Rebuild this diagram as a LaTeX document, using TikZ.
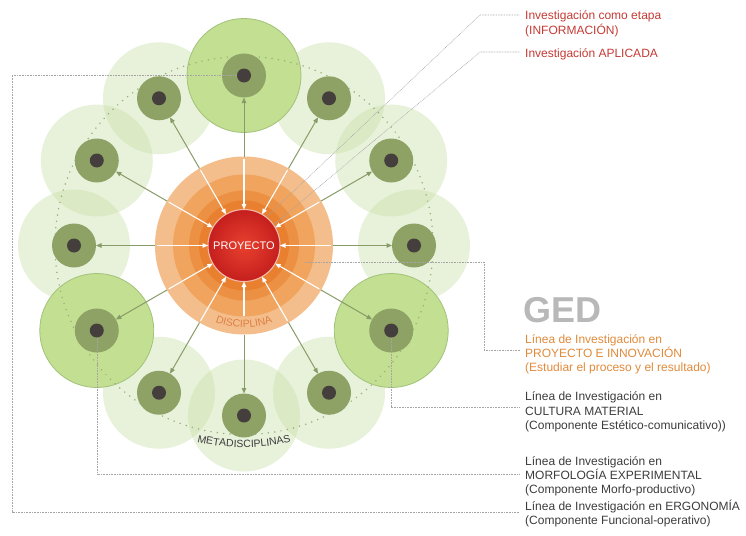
\documentclass[tikz,border=0pt]{standalone}
\usepackage{fontspec}
\setmainfont{Liberation Sans}
\usetikzlibrary{arrows.meta,decorations.text,calc}

\definecolor{halocol}{HTML}{C8E0A8}
\definecolor{brightcol}{HTML}{C2DF92}
\definecolor{brightrim}{HTML}{A2C27A}
\definecolor{ringcol}{HTML}{8FA265}
\definecolor{dotcol}{HTML}{443F3C}
\definecolor{orbitcol}{HTML}{9DB07C}
\definecolor{arrowgreen}{HTML}{889C68}
\definecolor{orA}{HTML}{F4BE8C}
\definecolor{orB}{HTML}{F0A45E}
\definecolor{orC}{HTML}{EC9043}
\definecolor{orD}{HTML}{E8802F}
\definecolor{redin}{HTML}{E8412F}
\definecolor{redout}{HTML}{C51F1E}
\definecolor{redrim}{HTML}{F4B9A6}
\definecolor{leadcol}{HTML}{A5A5A5}
\definecolor{txtred}{HTML}{C43A34}
\definecolor{txtorange}{HTML}{E08A3A}
\definecolor{txtgray}{HTML}{3C3C3C}
\definecolor{gedgray}{HTML}{B8B8B8}
\definecolor{disccol}{HTML}{DD7F45}

\tikzset{
  halo/.style={fill=halocol, fill opacity=0.42},
  brighthalo/.style={fill=brightcol, draw=brightrim, line width=0.8pt},
  orbit/.style={draw=orbitcol, line width=1.7pt, line cap=round, dash pattern=on 0pt off 6.4pt},
  metaring/.style={circle, fill=ringcol, minimum size=44pt, inner sep=0pt, outer sep=0pt},
  metadot/.style={circle, fill=dotcol, minimum size=14pt, inner sep=0pt, outer sep=0pt},
  outarrow/.style={draw=arrowgreen, line width=1pt, -{Triangle[length=5.5pt,width=4.5pt]}},
  inarrow/.style={draw=white, line width=1.1pt, -{Triangle[length=5.5pt,width=4.5pt]}},
  leader/.style={draw=leadcol, line width=0.55pt, dash pattern=on 0.8pt off 0.8pt},
  label/.style={anchor=base west, inner sep=0pt, font=\fontsize{12}{14}\selectfont},
  redlabel/.style={label, text=txtred},
  orlabel/.style={label, text=txtorange},
  graylabel/.style={label, text=txtgray},
}

\begin{document}
\begin{tikzpicture}[x=1pt,y=1pt]
\useasboundingbox (0,0) rectangle (746,-535);
\coordinate (c) at (244,-245.5);

% pale halos of the metadisciplines
\foreach \a in {0,30,60,120,150,180,240,270,300}
  \fill[halo] ($(c)+(\a:170)$) circle (56);
% highlighted halos
\foreach \a in {90,210,330}
  \filldraw[brighthalo] ($(c)+(\a:170)$) circle (57);

% dotted orbit
\draw[orbit] (c) circle (189);

% discipline rings
\node[circle, fill=orA, minimum size=178pt, inner sep=0pt, outer sep=0pt] (disc) at (c) {};
\fill[orB] (c) circle (71);
\fill[orC] (c) circle (55);
\fill[orD] (c) circle (45);

% project core
\node[circle, minimum size=72pt, inner sep=0pt, outer sep=0pt, draw=redrim, line width=1.1pt,
      shade, shading=radial, inner color=redin, outer color=redout,
      text=white, font=\fontsize{11}{13}\selectfont] (p) at (c) {PROYECTO};

% metadiscipline nodes and arrows (the lower inward arrow leaves room for the label)
\foreach \a [count=\i] in {90,60,30,0,-30,-60,-90,-120,-150,180,150,120} {
  \node[metaring] (m\i) at ($(c)+(\a:170)$) {};
  \node[metadot] (d\i) at (m\i) {};
  \draw[outarrow] (disc.\a) -- (m\i);
  \pgfmathsetmacro\sh{\a==-90 ? 19 : 2}
  \draw[inarrow, shorten <=\sh pt] (disc.\a) -- (p);
}

% curved labels
\path[decorate, decoration={text along path, text align=center,
   text={|\fontsize{10.5}{12}\selectfont\color{disccol}|DISCIPLINA}}]
   ($(c)+(208:82)$) arc[start angle=208, end angle=332, radius=82];
\path[decorate, decoration={text along path, text align=center,
   text={|\fontsize{10.5}{12}\selectfont\color{txtgray}|METADISCIPLINAS}}]
   ($(c)+(235:202)$) arc[start angle=235, end angle=305, radius=202];

% texts on the right
\node[redlabel] (t1) at (525,-20) {Investigación como etapa};
\node[redlabel] (t2) at (525,-35) {(INFORMACIÓN)};
\node[redlabel] (t3) at (525,-57) {Investigación APLICADA};

\node[anchor=base west, inner sep=0pt, text=gedgray, font=\fontsize{36}{40}\selectfont\bfseries] (ged) at (523,-322) {GED};
\node[orlabel] (o1) at (525,-343) {Línea de Investigación en};
\node[orlabel] (o2) at (525,-357) {PROYECTO E INNOVACIÓN};
\node[orlabel] (o3) at (525,-371) {(Estudiar el proceso y el resultado)};

\node[graylabel] (c1) at (525,-400) {Línea de Investigación en};
\node[graylabel] (c2) at (525,-415) {CULTURA MATERIAL};
\node[graylabel] (c3) at (525,-429) {(Componente Estético-comunicativo))};

\node[graylabel] (f1) at (525,-465) {Línea de Investigación en};
\node[graylabel] (f2) at (525,-479) {MORFOLOGÍA EXPERIMENTAL};
\node[graylabel] (f3) at (525,-493) {(Componente Morfo-productivo)};

\node[graylabel] (e1) at (525,-510) {Línea de Investigación en ERGONOMÍA};
\node[graylabel] (e2) at (525,-524) {(Componente Funcional-operativo)};

% leader lines
\coordinate (k1) at (480,-15);   \coordinate (k1e) at (520,-15);
\coordinate (k2) at (480,-52);   \coordinate (k2e) at (520,-52);
\coordinate (gs) at (305,-262);  \coordinate (gv) at (484,-350); \coordinate (ge) at (520,-350);
\coordinate (ce) at (520,-407);
\coordinate (fe) at (520,-474);
\coordinate (ek) at (12,-512);   \coordinate (ee) at (520,-512);

\draw[leader] (p.52) -- (k1) -- (k1e);
\draw[leader] (p.35) -- (k2) -- (k2e);
\draw[leader] (gs) -| (gv) -- (ge);
\draw[leader] (d5.south) |- (ce);
\draw[leader] (d9.south) |- (fe);
\draw[leader] (d1.west) -| (ek) -- (ee);
\end{tikzpicture}
\end{document}
